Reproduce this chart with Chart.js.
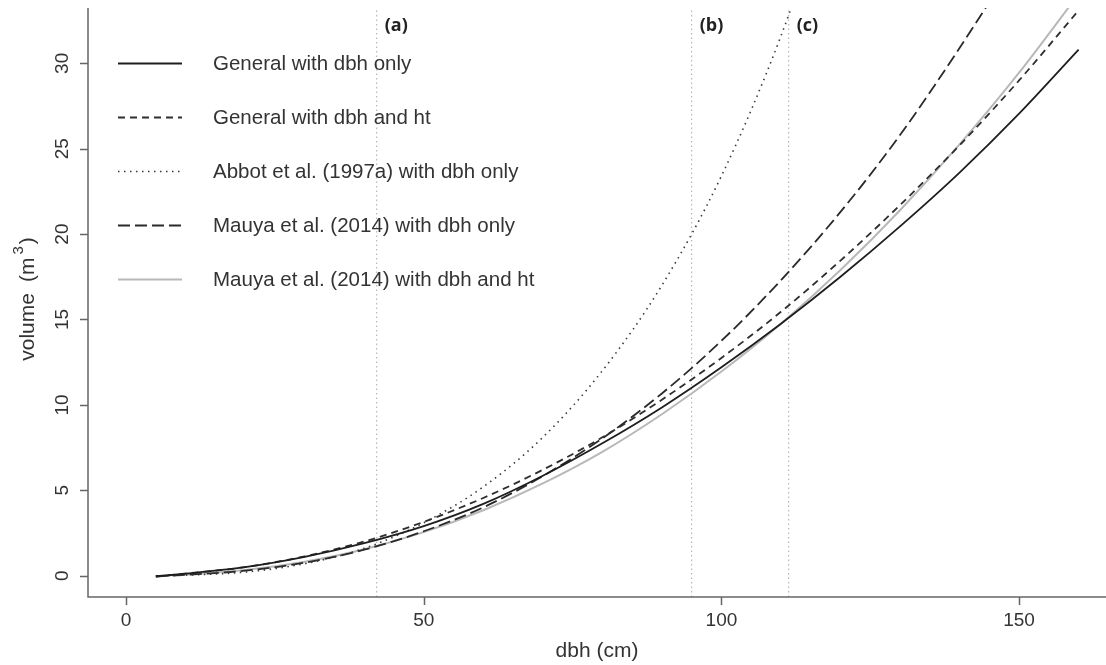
<!DOCTYPE html>
<html>
<head>
<meta charset="utf-8">
<script src="https://cdn.jsdelivr.net/npm/chart.js@4.4.0/dist/chart.umd.min.js"></script>
<style>
  html, body { margin: 0; padding: 0; background: #fff; }
  #wrap { width: 1106px; height: 665px; }
</style>
</head>
<body>
<div id="wrap"><canvas id="volChart" width="1106" height="665"></canvas></div>
<script>
const dbh = [5, 10, 20, 30, 40, 50, 60, 70, 80, 90, 100, 110, 120, 130, 140, 150, 160];

// volume (m3) for each model
const generalDbh   = [-0.03, 0.12, 0.5, 1.1, 1.9, 2.9, 4.2, 5.85, 7.75, 9.85, 12.2, 14.75, 17.5, 20.45, 23.6, 27.05, 30.8];
const generalDbhHt = [-0.05, 0.12, 0.5, 1.13, 2.0, 3.15, 4.55, 6.2, 8.1, 10.3, 12.75, 15.45, 18.45, 21.7, 25.2, 29.0, 33.1];
const abbotDbh     = [-0.02, 0.03, 0.21, 0.7, 1.6, 3.1, 5.2, 8.1, 12.0, 17.0, 23.4, 31.6, 41.8, null, null, null, null];
const mauyaDbh     = [-0.05, 0.05, 0.29, 0.76, 1.52, 2.6, 4.0, 5.83, 8.04, 10.67, 13.75, 17.3, 21.3, 25.8, 30.9, 36.4, 42.6];
const mauyaDbhHt   = [-0.03, 0.07, 0.33, 0.82, 1.55, 2.55, 3.83, 5.4, 7.25, 9.45, 11.95, 14.75, 17.9, 21.4, 25.25, 29.45, 34.05];

const seriesNames = [
  'General with dbh only',
  'General with dbh and ht',
  'Abbot et al. (1997a) with dbh only',
  'Mauya et al. (2014) with dbh only',
  'Mauya et al. (2014) with dbh and ht'
];

// vertical reference lines (a), (b), (c)
const refDbh = [42.1, 95, 111.3];
const refLabels = ['(a)', '(b)', '(c)'];

const xTicks = [0, 50, 100, 150];
const yTicks = [0, 5, 10, 15, 20, 25, 30];

const X_MIN = -6.4, X_MAX = 164.6;
const Y_MIN = -1.25, Y_MAX = 33.24;

const styles = [
  { color: '#1e1e1e', width: 1.8, dash: [] },
  { color: '#2e2e2e', width: 1.8, dash: [7, 5] },
  { color: '#3a3a3a', width: 1.6, dash: [1.5, 4.5] },
  { color: '#2a2a2a', width: 1.8, dash: [12, 5] },
  { color: '#b8b8b8', width: 2.0, dash: [] }
];

function toPoints(arr) {
  return dbh.map((d, i) => ({ x: d, y: arr[i] }));
}

const curveData = [generalDbh, generalDbhHt, abbotDbh, mauyaDbh, mauyaDbhHt];

const datasets = curveData.map((arr, i) => ({
  label: seriesNames[i],
  data: toPoints(arr),
  borderColor: styles[i].color,
  borderWidth: styles[i].width,
  borderDash: styles[i].dash,
  cubicInterpolationMode: 'monotone',
  pointRadius: 0,
  fill: false,
  spanGaps: false
}));

refDbh.forEach((d, i) => {
  datasets.push({
    label: refLabels[i],
    data: [{ x: d, y: Y_MIN }, { x: d, y: Y_MAX }],
    borderColor: '#a8a8a8',
    borderWidth: 1,
    borderDash: [1.5, 3],
    pointRadius: 0,
    fill: false
  });
});

const FONT = '"Liberation Sans", Arial, sans-serif';

// axes, ticks, legend and labels drawn R-style
const rStylePlugin = {
  id: 'rStyle',
  afterDatasetsDraw(chart) {
    const { ctx, chartArea: a, scales: { x, y } } = chart;
    ctx.save();

    // L-shaped axes with ticks
    ctx.strokeStyle = '#666';
    ctx.lineWidth = 1.5;
    ctx.setLineDash([]);
    ctx.beginPath();
    ctx.moveTo(a.left, a.top);
    ctx.lineTo(a.left, a.bottom);
    ctx.lineTo(a.right, a.bottom);
    yTicks.forEach(v => {
      const py = Math.round(y.getPixelForValue(v)) + 0.5;
      ctx.moveTo(a.left, py);
      ctx.lineTo(a.left - 8, py);
    });
    xTicks.forEach(v => {
      const px = Math.round(x.getPixelForValue(v)) + 0.5;
      ctx.moveTo(px, a.bottom);
      ctx.lineTo(px, a.bottom + 8);
    });
    ctx.stroke();

    // tick labels
    ctx.fillStyle = '#333';
    ctx.font = '19px ' + FONT;
    ctx.textAlign = 'center';
    ctx.textBaseline = 'middle';
    xTicks.forEach(v => {
      ctx.fillText(String(v), x.getPixelForValue(v), 621);
    });
    yTicks.forEach(v => {
      ctx.save();
      ctx.translate(63, y.getPixelForValue(v));
      ctx.rotate(-Math.PI / 2);
      ctx.fillText(String(v), 0, 0);
      ctx.restore();
    });

    // axis titles
    ctx.font = '21px ' + FONT;
    ctx.fillText('dbh (cm)', (a.left + a.right) / 2, 651);

    ctx.save();
    ctx.translate(28, 299);
    ctx.rotate(-Math.PI / 2);
    ctx.textAlign = 'left';
    ctx.font = '21px ' + FONT;
    const wVol = ctx.measureText('volume').width;
    const wOpen = ctx.measureText('(m').width;
    const wClose = ctx.measureText(')').width;
    ctx.font = '15px ' + FONT;
    const wSup = ctx.measureText('3').width;
    const gap = 11;
    const total = wVol + gap + wOpen + 3 + wSup + 2 + wClose;
    let cx = -total / 2;
    ctx.font = '21px ' + FONT;
    ctx.fillText('volume', cx, 0);
    cx += wVol + gap;
    ctx.fillText('(m', cx, 0);
    cx += wOpen + 3;
    ctx.font = '15px ' + FONT;
    ctx.fillText('3', cx, -9);
    cx += wSup + 2;
    ctx.font = '21px ' + FONT;
    ctx.fillText(')', cx, 0);
    ctx.restore();

    // legend (no box, inside the plot)
    ctx.textAlign = 'left';
    ctx.textBaseline = 'middle';
    ctx.font = '20.5px ' + FONT;
    seriesNames.forEach((name, i) => {
      const ly = 63.5 + i * 54;
      ctx.strokeStyle = styles[i].color;
      ctx.lineWidth = styles[i].width;
      ctx.setLineDash(styles[i].dash);
      ctx.beginPath();
      ctx.moveTo(118, ly);
      ctx.lineTo(182, ly);
      ctx.stroke();
      ctx.fillStyle = '#333';
      ctx.fillText(name, 213, ly + 1);
    });

    // (a) (b) (c) labels
    ctx.setLineDash([]);
    ctx.fillStyle = '#222';
    ctx.font = 'bold 18px "Open Sans", "Liberation Sans", sans-serif';
    refDbh.forEach((d, i) => {
      ctx.fillText(refLabels[i], x.getPixelForValue(d) + 8, 26);
    });

    ctx.restore();
  }
};

const ctx = document.getElementById('volChart').getContext('2d');
const volChart = new Chart(ctx, {
  type: 'line',
  data: { datasets: datasets },
  options: {
    responsive: false,
    animation: false,
    devicePixelRatio: 1,
    layout: { padding: { left: 88, top: 8, right: 0, bottom: 68 } },
    plugins: {
      legend: { display: false },
      tooltip: { enabled: false }
    },
    scales: {
      x: { type: 'linear', min: X_MIN, max: X_MAX, display: false },
      y: { type: 'linear', min: Y_MIN, max: Y_MAX, display: false }
    }
  },
  plugins: [rStylePlugin]
});
</script>
</body>
</html>
